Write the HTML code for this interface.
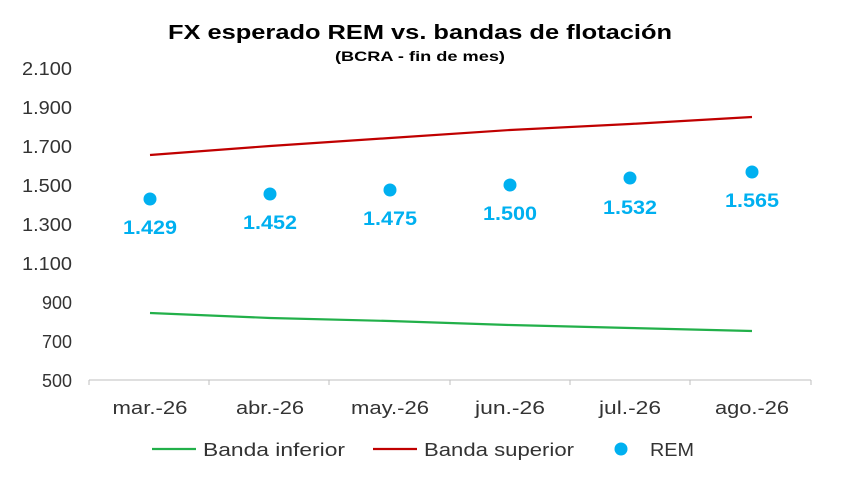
<!DOCTYPE html>
<html><head><meta charset="utf-8"><style>
body{margin:0;background:#fff;}
svg text{font-family:"Liberation Sans",sans-serif;}
</style></head><body>
<svg width="841" height="476" viewBox="0 0 841 476" xmlns="http://www.w3.org/2000/svg">
<rect width="841" height="476" fill="#fff"/>
<text x="420" y="39" text-anchor="middle" font-size="20" font-weight="bold" fill="#000" textLength="504" lengthAdjust="spacingAndGlyphs">FX esperado REM vs. bandas de flotación</text>
<text x="420" y="61" text-anchor="middle" font-size="14" font-weight="bold" fill="#000" textLength="170" lengthAdjust="spacingAndGlyphs">(BCRA - fin de mes)</text>
<g font-size="18" fill="#333" text-anchor="end">
<text x="72" y="75" textLength="50" lengthAdjust="spacingAndGlyphs">2.100</text>
<text x="72" y="114" textLength="50" lengthAdjust="spacingAndGlyphs">1.900</text>
<text x="72" y="153" textLength="50" lengthAdjust="spacingAndGlyphs">1.700</text>
<text x="72" y="192" textLength="50" lengthAdjust="spacingAndGlyphs">1.500</text>
<text x="72" y="231" textLength="50" lengthAdjust="spacingAndGlyphs">1.300</text>
<text x="72" y="270" textLength="50" lengthAdjust="spacingAndGlyphs">1.100</text>
<text x="72" y="309" textLength="30" lengthAdjust="spacingAndGlyphs">900</text>
<text x="72" y="348" textLength="30" lengthAdjust="spacingAndGlyphs">700</text>
<text x="72" y="387" textLength="30" lengthAdjust="spacingAndGlyphs">500</text>
</g>
<line x1="89" y1="380" x2="811" y2="380" stroke="#bfbfbf" stroke-width="1"/>
<g stroke="#bfbfbf">
<line x1="89" y1="380" x2="89" y2="385"/><line x1="209" y1="380" x2="209" y2="385"/>
<line x1="329" y1="380" x2="329" y2="385"/><line x1="450" y1="380" x2="450" y2="385"/>
<line x1="570" y1="380" x2="570" y2="385"/><line x1="690" y1="380" x2="690" y2="385"/>
<line x1="811" y1="380" x2="811" y2="385"/>
</g>
<g font-size="18" fill="#333" text-anchor="middle">
<text x="150" y="414" textLength="75" lengthAdjust="spacingAndGlyphs">mar.-26</text>
<text x="270" y="414" textLength="68" lengthAdjust="spacingAndGlyphs">abr.-26</text>
<text x="390" y="414" textLength="78" lengthAdjust="spacingAndGlyphs">may.-26</text>
<text x="510" y="414" textLength="70" lengthAdjust="spacingAndGlyphs">jun.-26</text>
<text x="630" y="414" textLength="62" lengthAdjust="spacingAndGlyphs">jul.-26</text>
<text x="752" y="414" textLength="74" lengthAdjust="spacingAndGlyphs">ago.-26</text>
</g>
<polyline points="150,155 270,146 390,138 510,130 630,124 752,117" fill="none" stroke="#c00000" stroke-width="2.2"/>
<polyline points="150,313 270,318 390,321 510,325 630,328 752,331" fill="none" stroke="#22b04a" stroke-width="2.2"/>
<g fill="#00b0f0">
<circle cx="150" cy="199" r="6.5"/><circle cx="270" cy="194" r="6.5"/>
<circle cx="390" cy="190" r="6.5"/><circle cx="510" cy="185" r="6.5"/>
<circle cx="630" cy="178" r="6.5"/><circle cx="752" cy="172" r="6.5"/>
</g>
<g font-size="19" font-weight="bold" fill="#00b0f0" text-anchor="middle">
<text x="150" y="234" textLength="54" lengthAdjust="spacingAndGlyphs">1.429</text>
<text x="270" y="229" textLength="54" lengthAdjust="spacingAndGlyphs">1.452</text>
<text x="390" y="225" textLength="54" lengthAdjust="spacingAndGlyphs">1.475</text>
<text x="510" y="220" textLength="54" lengthAdjust="spacingAndGlyphs">1.500</text>
<text x="630" y="214" textLength="54" lengthAdjust="spacingAndGlyphs">1.532</text>
<text x="752" y="207" textLength="54" lengthAdjust="spacingAndGlyphs">1.565</text>
</g>
<line x1="152" y1="449" x2="196" y2="449" stroke="#22b04a" stroke-width="2.2"/>
<text x="203" y="456" font-size="18" fill="#333" textLength="142" lengthAdjust="spacingAndGlyphs">Banda inferior</text>
<line x1="373" y1="449" x2="417" y2="449" stroke="#c00000" stroke-width="2.2"/>
<text x="424" y="456" font-size="18" fill="#333" textLength="150" lengthAdjust="spacingAndGlyphs">Banda superior</text>
<circle cx="621" cy="449" r="6.5" fill="#00b0f0"/>
<text x="650" y="456" font-size="18" fill="#333" textLength="44" lengthAdjust="spacingAndGlyphs">REM</text>
</svg>
</body></html>
